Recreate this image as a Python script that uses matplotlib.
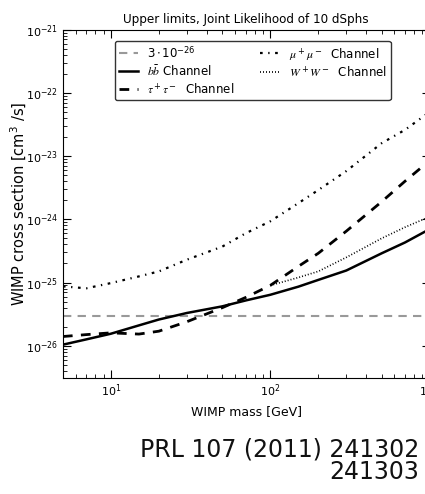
import numpy as np
import matplotlib
matplotlib.use('Agg')
import matplotlib.pyplot as plt
from matplotlib.ticker import LogLocator, NullFormatter

plt.rcParams['mathtext.fontset'] = 'custom'
plt.rcParams['mathtext.rm'] = 'DejaVu Sans'
plt.rcParams['mathtext.it'] = 'STIXGeneral:italic'
plt.rcParams['mathtext.bf'] = 'DejaVu Sans:bold'

# WIMP masses in GeV
mass = [5, 7, 10, 15, 20, 30, 50, 70, 100, 150, 200, 300, 500, 700, 1000]
bb = [1.04e-26, 1.26e-26, 1.55e-26, 2.1e-26, 2.6e-26, 3.3e-26, 4.2e-26, 5.2e-26,
      6.4e-26, 8.6e-26, 1.1e-25, 1.55e-25, 2.9e-25, 4.3e-25, 7e-25]
tautau = [1.4e-26, 1.5e-26, 1.6e-26, 1.53e-26, 1.7e-26, 2.4e-26, 4e-26, 5.8e-26,
          9e-26, 1.8e-25, 2.9e-25, 6.5e-25, 1.9e-24, 4e-24, 8.5e-24]
mumu = [8.7e-26, 8.1e-26, 9.8e-26, 1.25e-25, 1.5e-25, 2.3e-25, 3.7e-25, 6e-25,
        9.3e-25, 1.8e-24, 2.9e-24, 5.8e-24, 1.6e-23, 2.6e-23, 5e-23]
mass_ww = [100, 150, 200, 300, 500, 700, 1000]
ww = [9e-26, 1.2e-25, 1.5e-25, 2.5e-25, 5e-25, 7.5e-25, 1.1e-24]
thermal = 3e-26

fig = plt.figure(figsize=(4.25, 4.94), dpi=100)
ax = fig.add_axes([0.148, 0.235, 0.863, 0.705])

ax.axhline(thermal, color='#999999', lw=1.5, ls=(0, (4, 3)), label=r'$3\cdot10^{-26}$')
ax.plot(mass, bb, color='black', lw=1.8, label=r'$b\bar{b}$ Channel')
ax.plot(mass, tautau, color='black', lw=2, ls=(0, (3.5, 3)), label=r'$\tau^+\tau^-$  Channel')
ax.plot(mass, mumu, color='black', lw=1.6, ls=(0, (1.2, 2.5, 0.6, 2.5)),
        label=r'$\mu^+\mu^-$  Channel')
ax.plot(mass_ww, ww, color='black', lw=1.2, ls=(0, (0.6, 1.2)),
        label=r'$W^+W^-$  Channel')

ax.set_xscale('log')
ax.set_yscale('log')
ax.set_xlim(5, 1000)
ax.set_ylim(3.1e-27, 1e-21)
ax.yaxis.set_major_locator(LogLocator(base=10, numticks=20))
ax.yaxis.set_minor_locator(LogLocator(base=10, subs=np.arange(2, 10), numticks=100))
ax.yaxis.set_minor_formatter(NullFormatter())
ax.tick_params(which='both', direction='in', top=True, right=True, labelsize=8)
ax.tick_params(which='major', length=6)
ax.tick_params(which='minor', length=3)

ax.set_title('Upper limits, Joint Likelihood of 10 dSphs', fontsize=9.5,
             fontstretch='condensed', pad=5)
ax.set_xlabel('WIMP mass [GeV]', fontsize=9)
ax.set_ylabel(r'WIMP cross section [cm$^3$ /s]', fontsize=10.5)
ax.yaxis.set_label_coords(-0.095, 0.5)

leg = ax.legend(loc='upper left', bbox_to_anchor=(0.125, 0.985), ncol=2,
                fontsize=8.5, handlelength=1.6, columnspacing=2.2,
                labelspacing=0.3, borderpad=0.35,
                fancybox=True, framealpha=1, edgecolor='#333333')

fig.text(0.987, 0.02, 'PRL 107 (2011) 241302\n241303', fontsize=17,
         ha='right', va='bottom', linespacing=0.95, color='#111111')

fig.savefig('out.png', dpi=100)
